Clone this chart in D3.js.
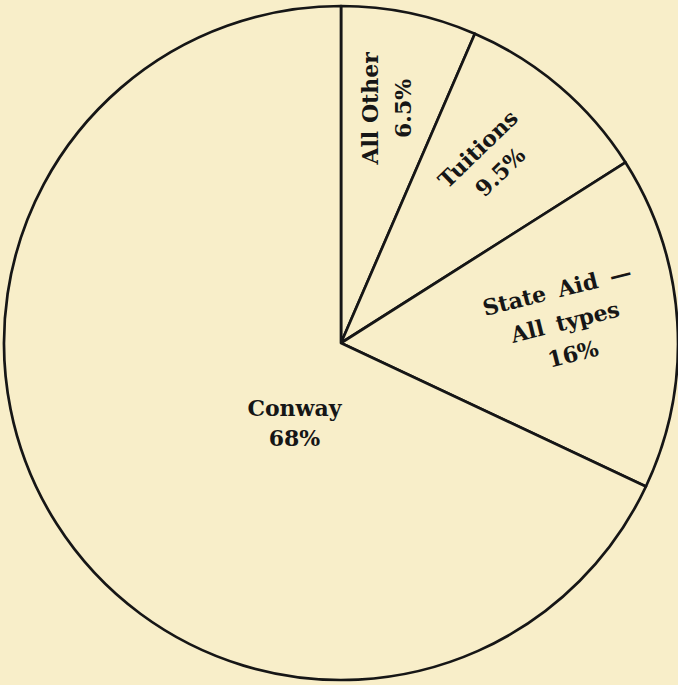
<!DOCTYPE html>
<html lang="en">
<head>
<meta charset="UTF-8">
<title>Sources of revenue pie</title>
<script src="https://d3js.org/d3.v7.min.js"></script>
<style>
  html, body { margin: 0; padding: 0; background: #f8eec9; }
  svg { display: block; }
  .lbl { font-family: "DejaVu Serif", serif; font-weight: bold; fill: #161616; }
</style>
</head>
<body>
<div id="chart"></div>
<script>
// data
const categories = ["All Other", "Tuitions", "State Aid — All types", "Conway"];
const shares = [6.5, 9.5, 16, 68];
const labelLines = [
  ["All Other", "6.5%"],
  ["Tuitions", "9.5%"],
  ["State Aid —", "All types", "16%"],
  ["Conway", "68%"]
];

// layout of the labels: polar spot from the centre and a turn (degrees)
const labelSpots = [
  {angle: 11, r: 239, rotate: -90, size: 22, lh: 33, ws: 0},
  {angle: 39, r: 235, rotate: -44, size: 22, lh: 32, ws: 0},
  {angle: 84.6, r: 225, rotate: -14, size: 22, lh: 33, ws: 5},
  {angle: 210, r: 93, rotate: 0, size: 22, lh: 30, ws: 0}
];

const width = 678, height = 685;
const cx = 341, cy = 343, radius = 337;

const svg = d3.select("#chart")
  .append("svg")
    .attr("width", width)
    .attr("height", height);

const g = svg.append("g")
    .attr("transform", `translate(${cx},${cy})`);

const pie = d3.pie().sort(null).value(d => d)(shares);
const arc = d3.arc().innerRadius(0).outerRadius(radius);

g.selectAll("path.slice")
  .data(pie)
  .join("path")
    .attr("class", "slice")
    .attr("d", arc)
    .attr("fill", "#f8eec9")
    .attr("stroke", "#161616")
    .attr("stroke-width", 2.7)
    .attr("stroke-linejoin", "round");

// labels
labelSpots.forEach(function(s, i) {
  const p = d3.pointRadial(s.angle * Math.PI / 180, s.r);
  const lines = labelLines[i];
  const t = g.append("text")
      .attr("class", "lbl")
      .attr("font-size", s.size)
      .attr("word-spacing", s.ws)
      .attr("text-anchor", "middle")
      .attr("transform", `translate(${p[0]},${p[1]}) rotate(${s.rotate})`);
  lines.forEach(function(line, j) {
    t.append("tspan")
      .attr("x", 0)
      .attr("y", (j - (lines.length - 1) / 2) * s.lh + s.size * 0.36)
      .text(line);
  });
});
</script>
</body>
</html>
